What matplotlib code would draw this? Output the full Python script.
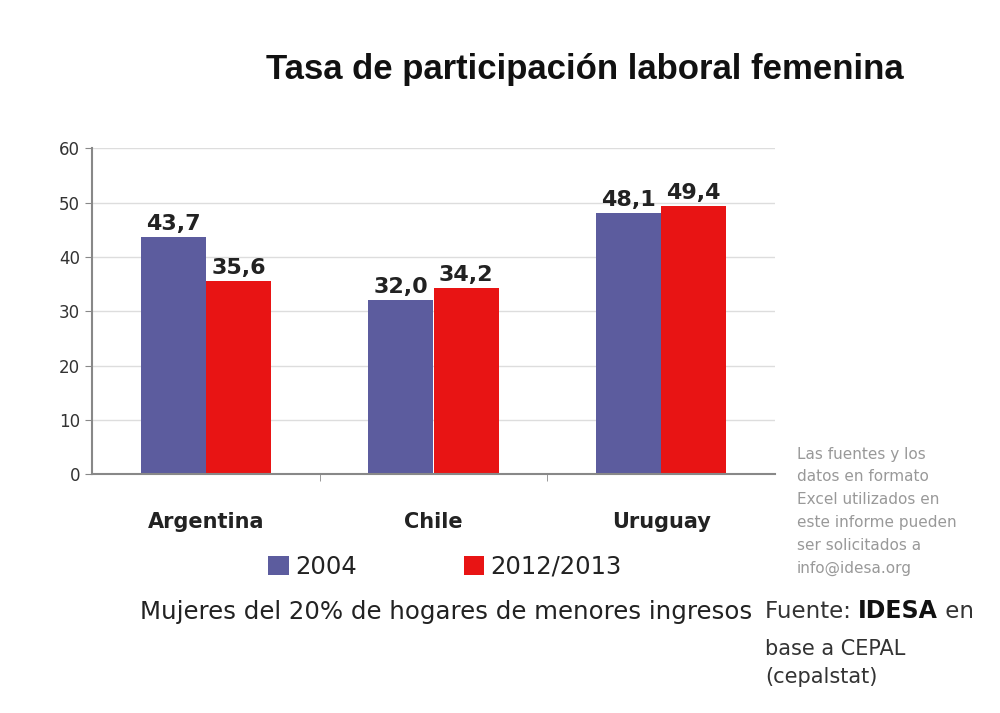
import numpy as np
import matplotlib.pyplot as plt
from matplotlib import font_manager

paises = ['Argentina', 'Chile', 'Uruguay']
serie_2004 = [43.7, 32.0, 48.1]
serie_2012 = [35.6, 34.2, 49.4]
etiquetas = ['2004', '2012/2013']
yticks = [0, 10, 20, 30, 40, 50, 60]

plt.rcParams['font.family'] = ['DejaVu Sans']

# regular-width Arial-like bold for the title
titulo_fp = None
for f in font_manager.findSystemFonts():
    if f.endswith('LiberationSans-Bold.ttf'):
        titulo_fp = font_manager.FontProperties(fname=f, size=25)
        break
if titulo_fp is None:
    titulo_fp = font_manager.FontProperties(family='DejaVu Sans', weight='bold', size=21)

fig = plt.figure(figsize=(10, 7.13), dpi=100)
ax = fig.add_axes([0.092, 0.335, 0.683, 0.457])

x = np.arange(len(paises))
w = 0.286
b1 = ax.bar(x - w / 2, serie_2004, w, color='#5C5C9E', label=etiquetas[0])
b2 = ax.bar(x + w / 2, serie_2012, w, color='#E81414', label=etiquetas[1])

for bars, vals in [(b1, serie_2004), (b2, serie_2012)]:
    for r, v in zip(bars, vals):
        ax.text(r.get_x() + r.get_width() / 2, v + 0.6, f'{v:.1f}'.replace('.', ','),
                ha='center', va='bottom', fontsize=16, fontweight='bold', color='#222222')

ax.set_xlim(-0.5, 2.5)
ax.set_ylim(0, 60)
ax.set_yticks(yticks)
ax.tick_params(axis='y', labelsize=12, colors='#333333', length=5, color='#888888')
ax.set_xticks(x)
ax.set_xticklabels(paises, fontsize=15, fontweight='bold', color='#222222')
ax.tick_params(axis='x', length=0, pad=27)
ax.set_xticks([0.5, 1.5], minor=True)
ax.tick_params(axis='x', which='minor', length=5, color='#888888')
ax.grid(axis='y', color='#DDDDDD', linewidth=1)
ax.set_axisbelow(True)
for s in ['top', 'right']:
    ax.spines[s].set_visible(False)
for s in ['left', 'bottom']:
    ax.spines[s].set_color('#888888')
    ax.spines[s].set_linewidth(1.5)

leg = fig.legend(handles=[b1, b2], labels=etiquetas, loc='center', bbox_to_anchor=(0.445, 0.205),
                 ncol=2, frameon=False, fontsize=17.5,
                 handlelength=0.85, handleheight=0.85, columnspacing=4.4, handletextpad=0.25)
for t in leg.get_texts():
    t.set_color('#222222')

fig.text(0.585, 0.903, 'Tasa de participación laboral femenina', ha='center', va='center',
         fontproperties=titulo_fp, color='#111111')
fig.text(0.14, 0.142, 'Mujeres del 20% de hogares de menores ingresos', ha='left', va='center',
         fontsize=17.6, color='#222222')
fig.text(0.797, 0.283, 'Las fuentes y los\ndatos en formato\nExcel utilizados en\neste informe pueden\nser solicitados a\ninfo@idesa.org',
         ha='left', va='center', fontsize=11, color='#999999', linespacing=1.65)

# Fuente: IDESA en (mixed weights on one line)
r = fig.canvas.get_renderer()
xpos = 0.765
for txt, wt, sz, col in [('Fuente: ', 'normal', 16.5, '#333333'), ('IDESA', 'bold', 17, '#111111'),
                         (' en', 'normal', 16.5, '#333333')]:
    t = fig.text(xpos, 0.143, txt, ha='left', va='center', fontsize=sz, fontweight=wt, color=col)
    xpos += t.get_window_extent(r).width / fig.bbox.width
fig.text(0.765, 0.07, 'base a CEPAL\n(cepalstat)', ha='left', va='center', fontsize=15,
         color='#333333', linespacing=1.45)

fig.savefig('out.png', dpi=100)
